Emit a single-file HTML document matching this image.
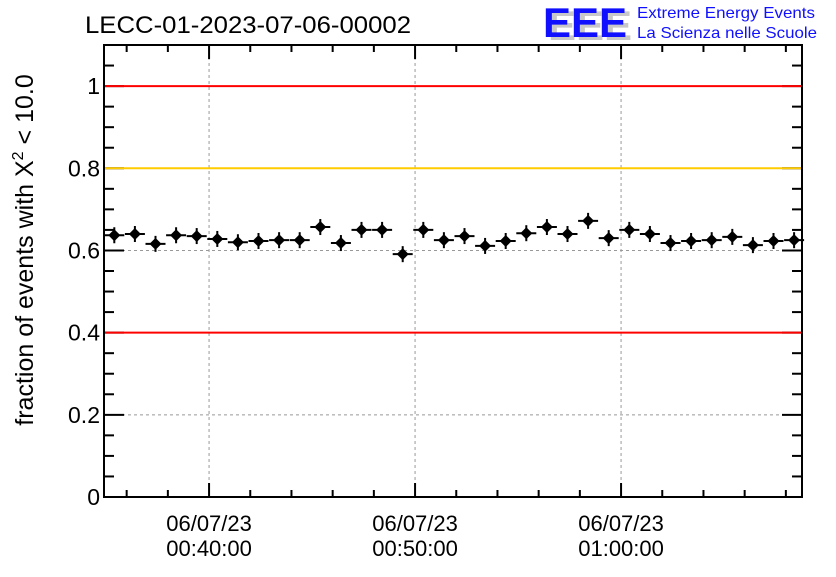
<!DOCTYPE html>
<html><head><meta charset="utf-8"><style>
body{margin:0;background:#fff}
svg text{font-family:"Liberation Sans",sans-serif}
</style></head><body>
<svg id="c" width="836" height="572" xmlns="http://www.w3.org/2000/svg">
<rect width="836" height="572" fill="#fff"/>
<text x="248" y="33" font-size="24" text-anchor="middle" textLength="326" lengthAdjust="spacingAndGlyphs">LECC-01-2023-07-06-00002</text>
<g>
<text x="548" y="40" font-size="42" font-weight="bold" fill="#c8c8c8" textLength="84" lengthAdjust="spacingAndGlyphs">EEE</text>
<text x="543" y="37" font-size="42" font-weight="bold" fill="#1010ff" textLength="84" lengthAdjust="spacingAndGlyphs">EEE</text>
<text x="637" y="18" font-size="16" fill="#1010ff" textLength="178" lengthAdjust="spacingAndGlyphs">Extreme Energy Events</text>
<text x="637" y="38" font-size="16" fill="#1010ff" textLength="180" lengthAdjust="spacingAndGlyphs">La Scienza nelle Scuole</text>
</g>
<g id="plot"></g>
<text transform="translate(33,250) rotate(-90)" font-size="25" text-anchor="middle">fraction of events with X<tspan dy="-10" font-size="16">2</tspan><tspan dy="10"> &lt; 10.0</tspan></text>
</svg>
<script>
const times = [35.4,36.4,37.4,38.4,39.4,40.4,41.4,42.4,43.4,44.4,45.4,46.4,47.4,48.4,49.4,50.4,51.4,52.4,53.4,54.4,55.4,56.4,57.4,58.4,59.4,60.4,61.4,62.4,63.4,64.4,65.4,66.4,67.4,68.4];
const values = [0.637,0.640,0.616,0.637,0.635,0.628,0.620,0.623,0.625,0.625,0.657,0.618,0.650,0.650,0.591,0.650,0.625,0.635,0.611,0.623,0.642,0.657,0.640,0.672,0.630,0.650,0.640,0.618,0.623,0.625,0.633,0.613,0.623,0.625];
const yTicks = [0,0.2,0.4,0.6,0.8,1];
const yTickLabels = ["0","0.2","0.4","0.6","0.8","1"];
const xMajor = [40,50,60];
const xMajorLabels = [["06/07/23","00:40:00"],["06/07/23","00:50:00"],["06/07/23","01:00:00"]];
const refLines = [1.0,0.8,0.4];
const refColors = ["#ff0000","#ffcc00","#ff0000"];

const L=104,R=802,T=45,B=497;
const t0=34.9,t1=t0+(R-L)/20.6;
const X=t=>L+(t-t0)/(t1-t0)*(R-L);
const Y=v=>B-v/1.1*(B-T);
const NS="http://www.w3.org/2000/svg";
const g=document.getElementById('plot');
function mk(tag,a,p){const e=document.createElementNS(NS,tag);for(const k in a)e.setAttribute(k,a[k]);(p||g).appendChild(e);return e;}

yTicks.forEach(v=>{if(v>0&&v<1&&v!==0.4){const l=mk('line',{x1:L,x2:R,y1:Y(v),y2:Y(v),stroke:'#999','stroke-dasharray':'3,3'});

}});
xMajor.forEach(t=>{const l=mk('line',{x1:X(t),x2:X(t),y1:T,y2:B,stroke:'#999','stroke-dasharray':'3,3'});

});

for(let v=0;v<=1.1001;v+=0.05){const maj=Math.abs(v/0.2-Math.round(v/0.2))<1e-6;const len=maj?20:10;
mk('line',{x1:L,x2:L+len,y1:Y(v),y2:Y(v),stroke:'#000','stroke-width':2});
mk('line',{x1:R,x2:R-len,y1:Y(v),y2:Y(v),stroke:'#000','stroke-width':2});}
for(let t=36;t<=t1;t+=2){const maj=t%10===0;const len=maj?14:7;
mk('line',{x1:X(t),x2:X(t),y1:B,y2:B-len,stroke:'#000','stroke-width':2});
mk('line',{x1:X(t),x2:X(t),y1:T,y2:T+len,stroke:'#000','stroke-width':2});}

refLines.forEach((v,i)=>{const l=mk('line',{x1:L,x2:R,y1:Y(v),y2:Y(v),stroke:refColors[i],'stroke-width':2});

});

const fr=mk('rect',{x:L,y:T,width:R-L,height:B-T,fill:'none',stroke:'#000','stroke-width':2});



yTicks.forEach((v,i)=>{const tx=mk('text',{x:L-4,y:Y(v)+8,'font-size':23,'text-anchor':'end'});tx.textContent=yTickLabels[i];

});
xMajor.forEach((t,i)=>{[0,1].forEach(j=>{const tx=mk('text',{x:X(t),y:531+j*25,'font-size':22,'text-anchor':'middle'});tx.textContent=xMajorLabels[i][j];

});});

times.forEach((t,i)=>{const cx=X(t),cy=Y(values[i]);const pg=mk('g',{});


mk('line',{x1:cx-10,x2:cx+10,y1:cy,y2:cy,stroke:'#000','stroke-width':2},pg);
mk('line',{x1:cx,x2:cx,y1:cy-8,y2:cy+8,stroke:'#000','stroke-width':2},pg);
mk('path',{d:`M${cx-6},${cy}L${cx},${cy-6}L${cx+6},${cy}L${cx},${cy+6}Z`,fill:'#000'},pg);});
</script>
</body></html>
